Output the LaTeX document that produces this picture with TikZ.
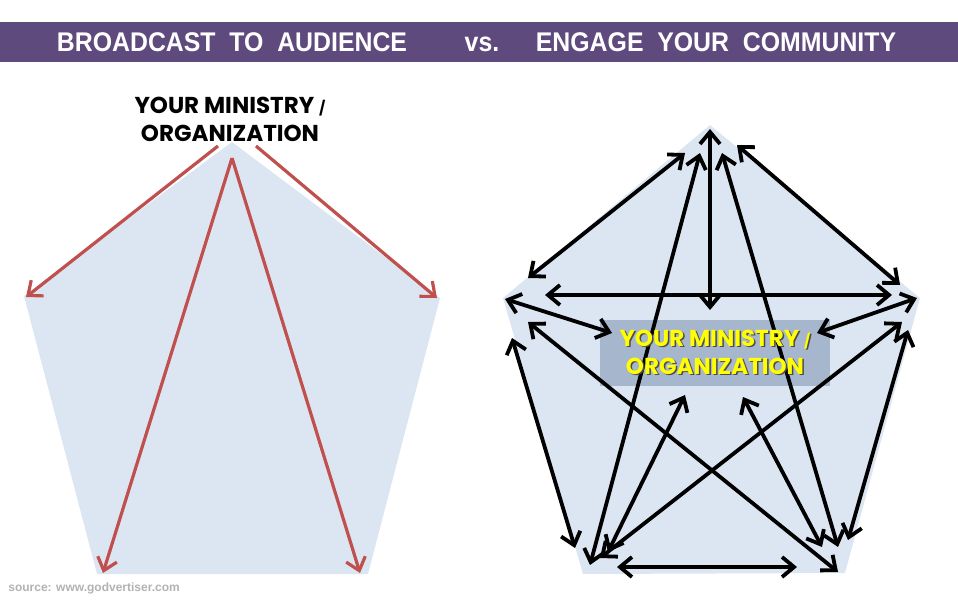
\documentclass[tikz,border=0pt]{standalone}
\usepackage{fontspec}
\setmainfont{Liberation Sans}
\newfontfamily\gothicfont{Poppins}
\usetikzlibrary{arrows.meta,positioning}
\definecolor{bannerpurple}{RGB}{95,74,125}
\definecolor{pentablue}{RGB}{220,230,242}
\definecolor{orgbox}{RGB}{166,182,204}
\definecolor{bcred}{RGB}{192,80,77}
\definecolor{orgyellow}{RGB}{255,255,0}

\begin{document}
\begin{tikzpicture}[x=0.5pt,y=-0.5pt,
  banner/.style={font=\fontsize{13.5}{15}\selectfont\bfseries,text=white,inner sep=0pt,anchor=base},
  orglabel/.style={font=\gothicfont\fontsize{11.5}{14}\selectfont\bfseries,align=center,inner sep=0pt},
  bcast/.style={draw=bcred,line width=1.6pt,-{Straight Barb[length=6pt,width=10pt]}},
  engage/.style={draw=black,line width=1.9pt,
    {Straight Barb[length=6pt,width=10pt]}-{Straight Barb[length=6pt,width=10pt]}}
]
  \useasboundingbox (0,0) rectangle (958,600);
  % Title bar
  \fill[bannerpurple] (0,22) rectangle (958,62);
  \node[banner] (titleleft) at (232,51) {\scalebox{0.92}[1]{BROADCAST\ \ TO\ \ AUDIENCE}};
  \node[banner] (titlevs) at (482,51) {\scalebox{0.92}[1]{vs.}};
  \node[banner] (titleright) at (716,51) {\scalebox{0.92}[1]{ENGAGE\ \ YOUR\ \ COMMUNITY}};

  % Left: broadcast
  \fill[pentablue] (232,142) -- (440,298) -- (368,574) -- (97,574) -- (24,296) -- cycle;
  \coordinate (srcL) at (218,146);
  \coordinate (srcR) at (256,146);
  \coordinate (srcC) at (232,158);
  \coordinate (audL) at (26,297);
  \coordinate (audR) at (437,298);
  \coordinate (audBL) at (103,573);
  \coordinate (audBR) at (360,573);
  \draw[bcast] (srcL) -- (audL);
  \draw[bcast] (srcR) -- (audR);
  \draw[bcast] (srcC) -- (audBL);
  \draw[bcast] (srcC) -- (audBR);
  \node[orglabel] (orgleft) at (230,119) {YOUR MINISTRY {\fontsize{7}{8}\selectfont/}\\ORGANIZATION};

  % Right: engage
  \fill[pentablue] (710,125) -- (920,298) -- (845,573) -- (583,574) -- (503,298) -- cycle;
  \fill[orgbox] (600,320) rectangle (830,386);
  % top vertex
  \coordinate (t0) at (710,129);
  \coordinate (t1) at (685,153);
  \coordinate (t2) at (700,153);
  \coordinate (t3) at (722,153);
  \coordinate (t4) at (737,145);
  % left vertex
  \coordinate (l0) at (505,299);
  \coordinate (l1) at (528,278);
  \coordinate (l2) at (545,295);
  \coordinate (l3) at (528,322);
  \coordinate (l4) at (512,338);
  % right vertex
  \coordinate (r0) at (917,298);
  \coordinate (r1) at (900,285);
  \coordinate (r2) at (892,295);
  \coordinate (r3) at (902,322);
  \coordinate (r4) at (908,330);
  % bottom left vertex
  \coordinate (bl1) at (575,548);
  \coordinate (bl2) at (590,565);
  \coordinate (bl3) at (600,558);
  \coordinate (bl4) at (608,552);
  \coordinate (bl5) at (617,567);
  % bottom right vertex
  \coordinate (br1) at (848,540);
  \coordinate (br2) at (838,547);
  \coordinate (br3) at (838,572);
  \coordinate (br4) at (822,547);
  \coordinate (br5) at (797,567);
  % centre
  \coordinate (cTop) at (710,310);
  \coordinate (cLeft) at (612,333);
  \coordinate (cRight) at (817,333);
  \coordinate (cBL) at (685,395);
  \coordinate (cBR) at (743,397);

  \draw[engage] (t0) -- (cTop);
  \draw[engage] (t1) -- (l1);
  \draw[engage] (t4) -- (r1);
  \draw[engage] (l2) -- (r2);
  \draw[engage] (l0) -- (cLeft);
  \draw[engage] (r0) -- (cRight);
  \draw[engage] (l4) -- (bl1);
  \draw[engage] (r4) -- (br1);
  \draw[engage] (bl5) -- (br5);
  \draw[engage] (t2) -- (bl2);
  \draw[engage] (t3) -- (br2);
  \draw[engage] (l3) -- (br3);
  \draw[engage] (r3) -- (bl3);
  \draw[engage] (bl4) -- (cBL);
  \draw[engage] (br4) -- (cBR);

  \node[orglabel,text=black!70] (orgshadow) at (716.5,353.5) {YOUR MINISTRY {\fontsize{7}{8}\selectfont/}\\ORGANIZATION};
  \node[orglabel,text=orgyellow] (orgcentre) at (715,352) {YOUR MINISTRY {\fontsize{7}{8}\selectfont/}\\ORGANIZATION};

  % Source note
  \node[font=\fontsize{6}{7}\selectfont\bfseries,text=black!30,anchor=west,inner sep=0pt] (source) at (8,588) {source: www.godvertiser.com};
\end{tikzpicture}
\end{document}
